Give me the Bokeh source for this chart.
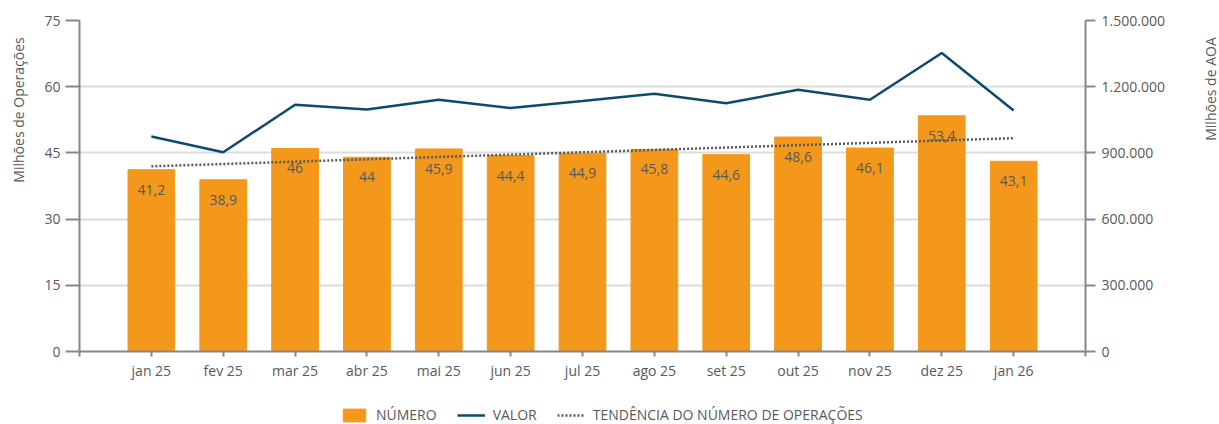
import numpy as np
from bokeh.plotting import figure
from bokeh.layouts import row, column
from bokeh.models import (Range1d, LinearAxis, FixedTicker, CustomJSTickFormatter,
                          Legend, LegendItem, ColumnDataSource)
from bokeh.embed import file_html
from bokeh.resources import INLINE
from bokeh.core.properties import value

months = ["jan 25", "fev 25", "mar 25", "abr 25", "mai 25", "jun 25", "jul 25",
          "ago 25", "set 25", "out 25", "nov 25", "dez 25", "jan 26"]
numero = [41.2, 38.9, 46, 44, 45.9, 44.4, 44.9, 45.8, 44.6, 48.6, 46.1, 53.4, 43.1]
valor = [974000, 903000, 1118000, 1097000, 1141000, 1103000, 1135000,
         1168000, 1125000, 1186000, 1141000, 1353000, 1092000]
left_ticks = [0, 15, 30, 45, 60, 75]
right_ticks = [0, 300000, 600000, 900000, 1200000, 1500000]
left_title = "Milhões de Operações"
right_title = "Milhões de AOA"
legend_labels = ["NÚMERO", "VALOR", "TENDÊNCIA DO NÚMERO DE OPERAÇÕES"]

FONT = "Open Sans"
TXT = "#595959"
AXC = "#878787"
BAR = "#F3981A"
LINE = "#0D4B6E"
TREND = "#5a5a5a"

x = list(range(len(months)))
slope, intercept = np.polyfit(x, numero, 1)
trend = [intercept + slope * i for i in x]
labels = [f"{v:g}".replace(".", ",") for v in numero]

src = ColumnDataSource(dict(x=x, numero=numero, valor=valor, trend=trend, label=labels))

H_MAIN = 395
p = figure(width=1140, height=H_MAIN, output_backend="svg", toolbar_location=None,
           x_range=Range1d(-1, 13), y_range=Range1d(0, 75),
           min_border_left=49, min_border_right=85, min_border_top=20,
           min_border_bottom=44)
p.extra_y_ranges = {"valor": Range1d(0, 1500000)}
p.outline_line_color = None
p.xgrid.grid_line_color = None
p.ygrid.ticker = FixedTicker(ticks=left_ticks)
p.ygrid.grid_line_color = "#dcdcdc"
p.ygrid.grid_line_width = 2

p.vbar(x="x", top="numero", width=0.65, color=BAR, source=src)
p.text(x="x", y="numero", text="label", y_offset=20, text_align="center",
       text_baseline="middle", text_font=value(FONT), text_font_size="14px",
       text_color=TXT, source=src)
p.line("x", "trend", line_dash="2 2", line_width=2.5, color=TREND, source=src)
p.line("x", "valor", y_range_name="valor", line_width=2.5, color=LINE, source=src)


def style_axis(ax):
    ax.major_tick_in = 0
    ax.minor_tick_line_color = None
    ax.axis_line_color = AXC
    ax.axis_line_width = 2
    ax.major_tick_line_color = AXC
    ax.major_tick_line_width = 2
    ax.major_label_text_font = FONT
    ax.major_label_text_font_size = "14px"
    ax.major_label_text_color = TXT


ya = p.yaxis[0]
style_axis(ya)
ya.ticker = FixedTicker(ticks=left_ticks)
ya.major_tick_out = 14
ya.major_label_standoff = 5

ra = LinearAxis(y_range_name="valor", ticker=FixedTicker(ticks=right_ticks),
                formatter=CustomJSTickFormatter(code="""
                    return Math.round(tick).toString().replace(/\\B(?=(\\d{3})+(?!\\d))/g, '.');
                """))
style_axis(ra)
ra.major_tick_out = 10
ra.major_label_standoff = 6
p.add_layout(ra, "right")

xa = p.xaxis[0]
style_axis(xa)
xa.ticker = FixedTicker(ticks=[-1] + x + [13])
overrides = {i: months[i] for i in x}
overrides[-1] = ""
overrides[13] = ""
xa.major_label_overrides = overrides
xa.major_tick_out = 5
xa.major_label_standoff = 4


def blank_fig(w, h):
    f = figure(width=w, height=h, output_backend="svg", toolbar_location=None,
               x_range=Range1d(0, w), y_range=Range1d(0, h),
               min_border=0, min_border_left=0, min_border_right=0,
               min_border_top=0, min_border_bottom=0)
    f.axis.visible = False
    f.grid.visible = False
    f.outline_line_color = None
    return f


# axis titles (vertical, top-aligned, reading bottom-to-top)
lt = blank_fig(30, H_MAIN)
lt.text(x=[18], y=[H_MAIN - 20], text=[left_title], angle=np.pi / 2,
        text_align="right", text_baseline="middle", text_font=value(FONT),
        text_font_size="14px", text_color=TXT)
rt = blank_fig(49, H_MAIN)
rt.text(x=[40], y=[H_MAIN - 20], text=[right_title], angle=np.pi / 2,
        text_align="right", text_baseline="middle", text_font=value(FONT),
        text_font_size="14px", text_color=TXT)

# legend strip (legend glyphs come from off-screen proxy renderers)
H_LEG = 424 - H_MAIN
lf = blank_fig(1219, H_LEG)
g1 = lf.vbar(x=[-500], top=[-500], bottom=[-510], width=1, color=BAR)
g2 = lf.line(x=[-500, -490], y=[-500, -500], line_width=2.5, color=LINE)
g3 = lf.line(x=[-500, -490], y=[-500, -500], line_width=2.5, color=TREND,
             line_dash="2 2")
legend = Legend(items=[LegendItem(label=legend_labels[0], renderers=[g1]),
                       LegendItem(label=legend_labels[1], renderers=[g2]),
                       LegendItem(label=legend_labels[2], renderers=[g3])],
                orientation="horizontal", location=(340, 0),
                background_fill_alpha=0, border_line_color=None, padding=0, margin=0,
                spacing=20, glyph_width=28, glyph_height=16, label_standoff=8,
                label_text_font=FONT, label_text_font_size="14px",
                label_text_color=TXT, label_height=18)
lf.add_layout(legend)

layout = column(row(lt, p, rt, spacing=0), lf, spacing=0)
open("out.html", "w").write(file_html(layout, INLINE))
